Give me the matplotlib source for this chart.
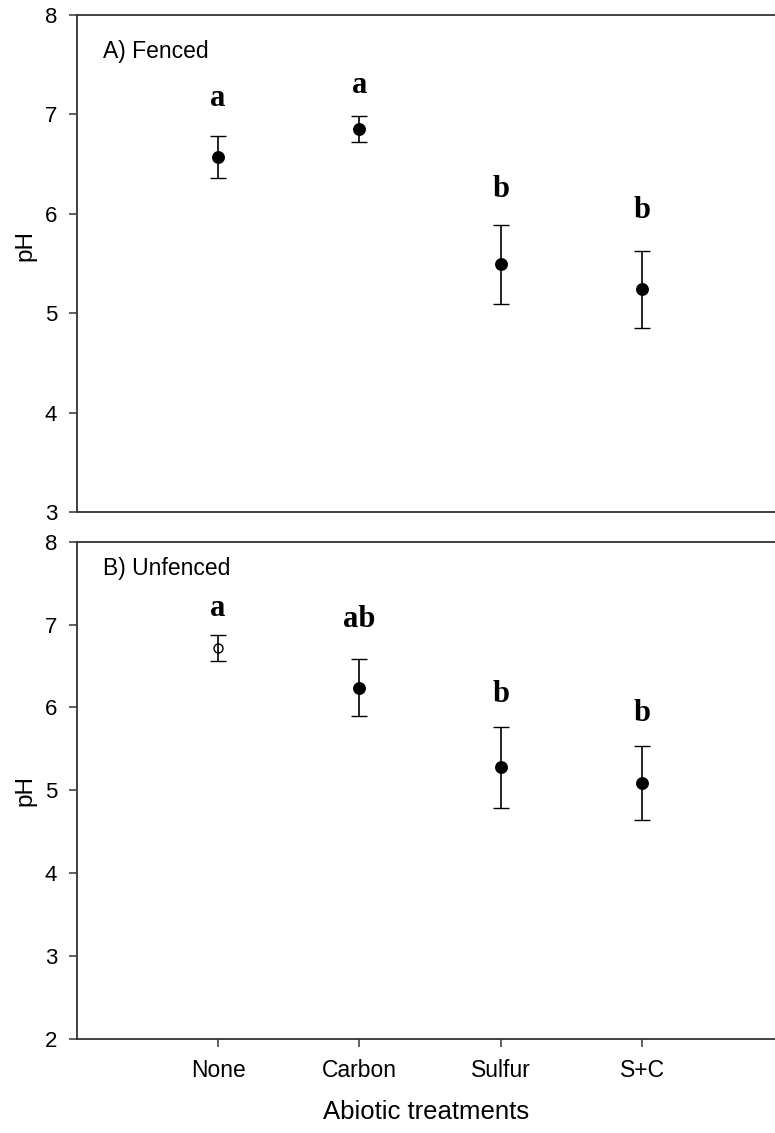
import matplotlib
matplotlib.use("Agg")
import matplotlib.pyplot as plt

plt.rcParams['font.family'] = ['Liberation Sans', 'DejaVu Sans']

treatments = ['None', 'Carbon', 'Sulfur', 'S+C']

# A) Fenced
fenced_mean = [6.57, 6.85, 5.49, 5.24]
fenced_se = [0.21, 0.13, 0.40, 0.39]
fenced_letters = ['a', 'a', 'b', 'b']

# B) Unfenced
unfenced_mean = [6.72, 6.24, 5.28, 5.09]
unfenced_se = [0.16, 0.34, 0.49, 0.45]
unfenced_letters = ['a', 'ab', 'b', 'b']
unfenced_open = [True, False, False, False]

xpos = [1, 2, 3, 4]
spine_col = '#333333'

fig = plt.figure(figsize=(7.75, 11.33), dpi=100)
ax1 = fig.add_axes([0.0990, 0.5481, 0.9010, 0.4387])
ax2 = fig.add_axes([0.0990, 0.0830, 0.9010, 0.4389])


def draw_panel(ax, means, ses, letters, opens, title, ylim, title_y, letter_off):
    for i in range(len(means)):
        face = 'none' if opens[i] else 'black'
        ms = 9 if opens[i] else 11.5
        ax.errorbar(xpos[i], means[i], yerr=ses[i], fmt='o', color='black',
                    mfc=face, mec='black', ms=ms * 0.72, mew=1.0,
                    elinewidth=1.2, capsize=5.6, capthick=1.2)
        ax.annotate(letters[i], (xpos[i], means[i] + ses[i]),
                    xytext=(0, letter_off[i]), textcoords='offset points',
                    ha='center', va='center', fontsize=22, fontweight='bold',
                    family=['Liberation Serif', 'DejaVu Serif'])
    ax.set_xlim(0, 4.94)
    ax.set_ylim(*ylim)
    ax.spines['right'].set_visible(False)
    for s in ['left', 'top', 'bottom']:
        ax.spines[s].set_color(spine_col)
        ax.spines[s].set_linewidth(1.3)
    ax.tick_params(axis='y', direction='out', length=5.5, width=1.1,
                   color=spine_col, labelsize=16, pad=8.5)
    ax.set_ylabel('pH', fontsize=17.5)
    ax.text(0.0377, title_y, title, transform=ax.transAxes, fontsize=16.5,
            va='baseline', ha='left')


draw_panel(ax1, fenced_mean, fenced_se, fenced_letters, [False] * 4,
           'A) Fenced', (3, 8), 0.913, [27, 22, 25, 29])
ax1.set_yticks([3, 4, 5, 6, 7, 8])
ax1.set_xticks([])
ax1.yaxis.set_label_coords(-0.057, 0.537)

draw_panel(ax2, unfenced_mean, unfenced_se, unfenced_letters, unfenced_open,
           'B) Unfenced', (2, 8), 0.933, [19, 29, 23, 23])
ax2.set_yticks([2, 3, 4, 5, 6, 7, 8])
ax2.set_xticks(xpos)
ax2.set_xticklabels(treatments)
ax2.tick_params(axis='x', direction='out', length=5.5, width=1.1,
                color=spine_col, labelsize=16.5, pad=9)
ax2.set_xlabel('Abiotic treatments', fontsize=18.5, labelpad=13)
ax2.yaxis.set_label_coords(-0.057, 0.5)

fig.savefig('out.png', dpi=100)
